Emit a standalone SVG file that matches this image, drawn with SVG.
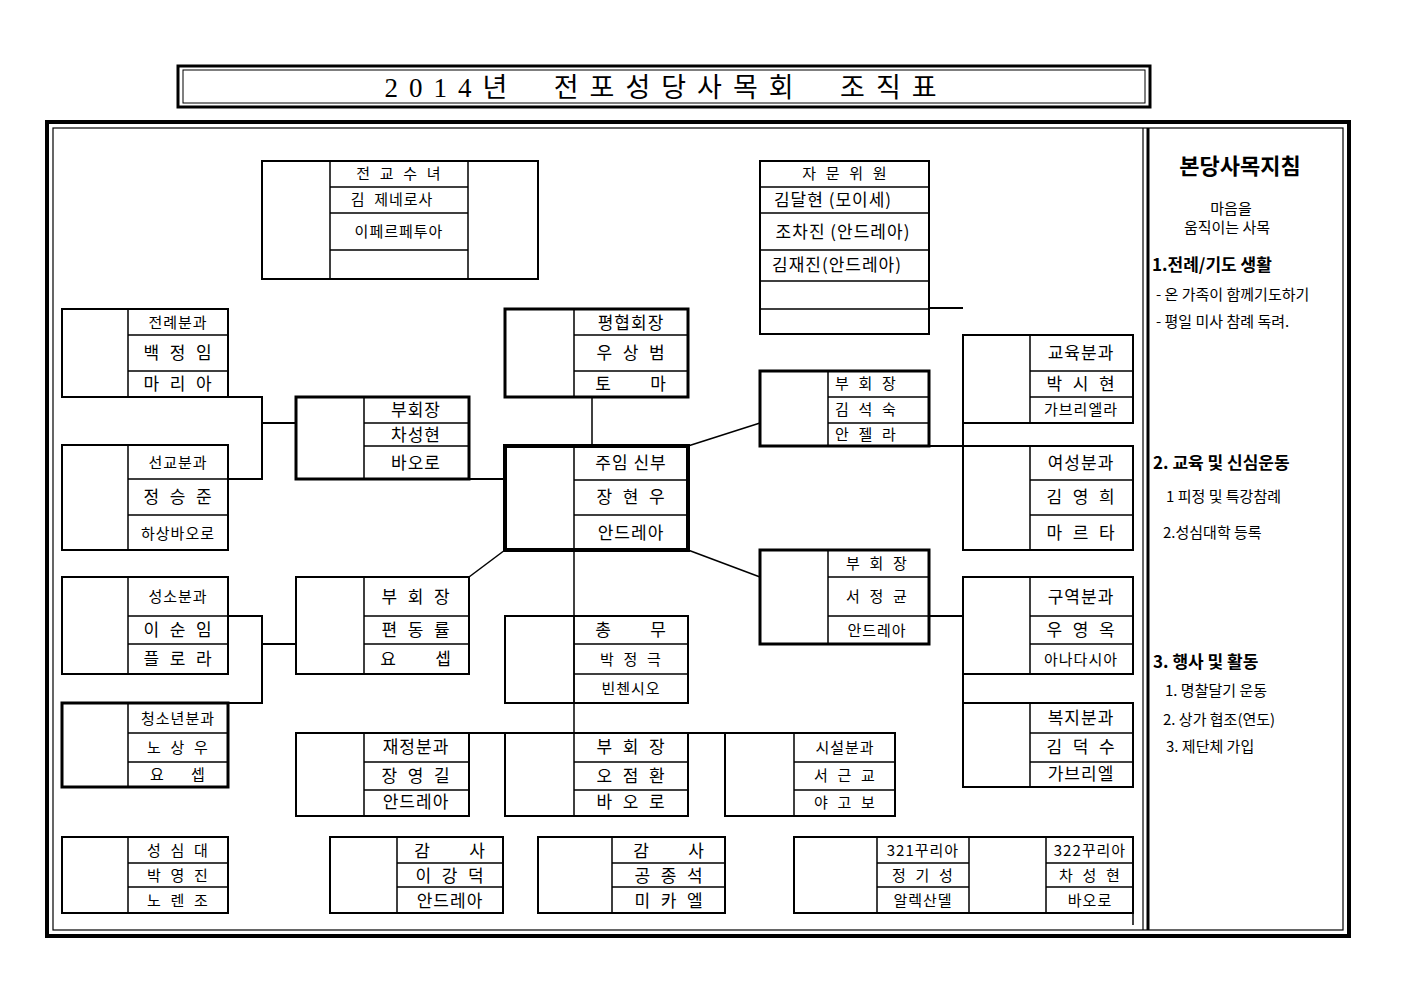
<svg xmlns="http://www.w3.org/2000/svg" width="1403" height="992" viewBox="0 0 1403 992">
<style>
text{white-space:pre}
.b{fill:none;stroke:#000;stroke-width:2}
.k{fill:none;stroke:#000;stroke-width:3}
.kk{fill:none;stroke:#000;stroke-width:4}
.l{stroke:#000;stroke-width:1.5;fill:none}
.c{stroke:#000;stroke-width:2;fill:none}
.t{font-family:"Noto Sans CJK KR","Liberation Sans",sans-serif;font-size:17px;text-anchor:middle;fill:#000;letter-spacing:1px}
.s{font-size:15px}
.p{font-family:"Noto Sans CJK KR","Liberation Sans",sans-serif;font-size:15px;fill:#000}
.h{font-weight:bold;font-size:17px}
</style>
<rect width="1403" height="992" fill="#fff"/>
<g id="title">
<rect x="178" y="66" width="972" height="41" class="k"/>
<rect x="183" y="70" width="962" height="33" fill="none" stroke="#000" stroke-width="1"/>
<text x="666" y="97" font-family="'Liberation Serif','Noto Sans CJK KR',serif" font-size="27" text-anchor="middle" letter-spacing="11">2014년  전포성당사목회  조직표</text>
</g>
<g id="frame">
<rect x="47" y="122" width="1302" height="814" fill="none" stroke="#000" stroke-width="4"/>
<rect x="53" y="128" width="1290" height="802" fill="none" stroke="#000" stroke-width="1.2"/>
<line x1="1143" y1="128" x2="1143" y2="930" stroke="#000" stroke-width="1.2"/>
<line x1="1148" y1="128" x2="1148" y2="930" stroke="#000" stroke-width="3"/>
</g>
<g id="connectors">
<polyline class="c" points="228,397 262,397 262,479 228,479"/>
<line class="c" x1="262" y1="423" x2="296" y2="423"/>
<line class="c" x1="469" y1="479" x2="505" y2="479"/>
<line class="l" x1="592" y1="397" x2="592" y2="446"/>
<line class="l" x1="574" y1="550" x2="574" y2="733"/>
<line class="l" x1="688" y1="446" x2="760" y2="423"/>
<line class="l" x1="688" y1="550" x2="760" y2="577"/>
<line class="l" x1="505" y1="550" x2="469" y2="577"/>
<line class="c" x1="929" y1="446" x2="963" y2="446"/>
<line class="c" x1="929" y1="308" x2="963" y2="308"/>
<line class="c" x1="963" y1="423" x2="963" y2="446"/>
<line class="c" x1="929" y1="616" x2="963" y2="616"/>
<line class="c" x1="963" y1="674" x2="963" y2="703"/>
<polyline class="c" points="228,616 262,616 262,703 228,703"/>
<line class="c" x1="262" y1="644" x2="296" y2="644"/>
<line class="c" x1="469" y1="733" x2="505" y2="733"/>
<line class="c" x1="688" y1="733" x2="725" y2="733"/>
<line class="l" x1="1133" y1="913" x2="1133" y2="925"/>
</g>
<g id="n-nun">
<rect x="262" y="161" width="276" height="118" class="b"/>
<path class="l" d="M330 161V279M468 161V279M330 187H468M330 213H468M330 250H468"/>
<text class="t s" x="399" y="179">전  교  수  녀</text>
<text class="t s" x="392" y="205">김  제네로사</text>
<text class="t s" x="399" y="237">이페르페투아</text>
</g>
<g id="n-advisor">
<rect x="760" y="161" width="169" height="173" class="b"/>
<path class="l" d="M760 187H929M760 213H929M760 250H929M760 281H929M760 309H929"/>
<text class="t s" x="845" y="179">자  문  위  원</text>
<text class="t" x="833" y="206">김달현 (모이세)</text>
<text class="t" x="843" y="238">조차진 (안드레아)</text>
<text class="t" x="837" y="271">김재진(안드레아)</text>
</g>
<g id="n-liturgy">
<rect x="62" y="309" width="166" height="88" class="b"/>
<path class="l" d="M128 309V397M128 335H228M128 371H228"/>
<text class="t s" x="178" y="328">전례분과</text>
<text class="t" x="178" y="359">백  정  임</text>
<text class="t" x="178" y="390">마  리  아</text>
</g>
<g id="n-mission">
<rect x="62" y="445" width="166" height="105" class="b"/>
<path class="l" d="M128 445V550M128 479H228M128 515H228"/>
<text class="t s" x="178" y="468">선교분과</text>
<text class="t" x="178" y="503">정  승  준</text>
<text class="t s" x="178" y="539">하상바오로</text>
</g>
<g id="n-vp1">
<rect x="296" y="397" width="173" height="82" class="k"/>
<path class="l" d="M364 397V479M364 423H469M364 446H469"/>
<text class="t" x="416" y="416">부회장</text>
<text class="t" x="416" y="441">차성현</text>
<text class="t" x="416" y="469">바오로</text>
</g>
<g id="n-council">
<rect x="505" y="309" width="183" height="88" class="k"/>
<path class="l" d="M574 309V397M574 335H688M574 371H688"/>
<text class="t" x="631" y="329">평협회장</text>
<text class="t" x="631" y="359">우  상  범</text>
<text class="t" x="631" y="390">토        마</text>
</g>
<g id="n-pastor">
<rect x="505" y="446" width="183" height="104" class="kk"/>
<path class="l" d="M574 446V550M574 480H688M574 515H688"/>
<text class="t" x="631" y="469">주임 신부</text>
<text class="t" x="631" y="503">장  현  우</text>
<text class="t" x="631" y="539">안드레아</text>
</g>
<g id="n-vp2">
<rect x="760" y="371" width="169" height="75" class="k"/>
<path class="l" d="M828 371V446M828 397H929M828 423H929"/>
<text class="t s" x="866" y="389">부  회  장</text>
<text class="t s" x="866" y="415">김  석  숙</text>
<text class="t s" x="866" y="440">안  젤  라</text>
</g>
<g id="n-edu">
<rect x="963" y="335" width="170" height="88" class="b"/>
<path class="l" d="M1030 335V423M1030 371H1133M1030 397H1133"/>
<text class="t" x="1081" y="359">교육분과</text>
<text class="t" x="1081" y="390">박  시  현</text>
<text class="t s" x="1081" y="415">가브리엘라</text>
</g>
<g id="n-women">
<rect x="963" y="446" width="170" height="104" class="b"/>
<path class="l" d="M1030 446V550M1030 480H1133M1030 515H1133"/>
<text class="t" x="1081" y="469">여성분과</text>
<text class="t" x="1081" y="503">김  영  희</text>
<text class="t" x="1081" y="539">마  르  타</text>
</g>
<g id="n-vp3">
<rect x="760" y="550" width="169" height="94" class="k"/>
<path class="l" d="M828 550V644M828 577H929M828 616H929"/>
<text class="t s" x="877" y="569">부  회  장</text>
<text class="t s" x="877" y="602">서  정  균</text>
<text class="t s" x="877" y="636">안드레아</text>
</g>
<g id="n-district">
<rect x="963" y="577" width="170" height="97" class="b"/>
<path class="l" d="M1030 577V674M1030 616H1133M1030 644H1133"/>
<text class="t" x="1081" y="603">구역분과</text>
<text class="t" x="1081" y="636">우  영  옥</text>
<text class="t s" x="1081" y="665">아나다시아</text>
</g>
<g id="n-welfare">
<rect x="963" y="703" width="170" height="84" class="b"/>
<path class="l" d="M1030 703V787M1030 733H1133M1030 762H1133"/>
<text class="t" x="1081" y="724">복지분과</text>
<text class="t" x="1081" y="753">김  덕  수</text>
<text class="t" x="1081" y="780">가브리엘</text>
</g>
<g id="n-vocation">
<rect x="62" y="577" width="166" height="97" class="b"/>
<path class="l" d="M128 577V674M128 616H228M128 644H228"/>
<text class="t s" x="178" y="602">성소분과</text>
<text class="t" x="178" y="636">이  순  임</text>
<text class="t" x="178" y="665">플  로  라</text>
</g>
<g id="n-vp4">
<rect x="296" y="577" width="173" height="97" class="b"/>
<path class="l" d="M364 577V674M364 616H469M364 644H469"/>
<text class="t" x="416" y="603">부  회  장</text>
<text class="t" x="416" y="636">편  동  률</text>
<text class="t" x="416" y="665">요        셉</text>
</g>
<g id="n-youth">
<rect x="62" y="703" width="166" height="84" class="k"/>
<path class="l" d="M128 703V787M128 733H228M128 762H228"/>
<text class="t s" x="178" y="724">청소년분과</text>
<text class="t s" x="178" y="753">노  상  우</text>
<text class="t s" x="178" y="780">요      셉</text>
</g>
<g id="n-general">
<rect x="505" y="616" width="183" height="87" class="b"/>
<path class="l" d="M574 616V703M574 644H688M574 674H688"/>
<text class="t" x="631" y="636">총        무</text>
<text class="t s" x="631" y="665">박  정  극</text>
<text class="t s" x="631" y="694">빈첸시오</text>
</g>
<g id="n-finance">
<rect x="296" y="733" width="173" height="83" class="b"/>
<path class="l" d="M364 733V816M364 762H469M364 790H469"/>
<text class="t" x="416" y="753">재정분과</text>
<text class="t" x="416" y="782">장  영  길</text>
<text class="t" x="416" y="808">안드레아</text>
</g>
<g id="n-vp5">
<rect x="505" y="733" width="183" height="83" class="b"/>
<path class="l" d="M574 733V816M574 762H688M574 790H688"/>
<text class="t" x="631" y="753">부  회  장</text>
<text class="t" x="631" y="782">오  점  환</text>
<text class="t" x="631" y="808">바  오  로</text>
</g>
<g id="n-facility">
<rect x="725" y="733" width="170" height="83" class="b"/>
<path class="l" d="M794 733V816M794 762H895M794 790H895"/>
<text class="t s" x="845" y="753">시설분과</text>
<text class="t s" x="845" y="781">서  근  교</text>
<text class="t s" x="845" y="808">야  고  보</text>
</g>
<g id="n-sacred">
<rect x="62" y="837" width="166" height="76" class="b"/>
<path class="l" d="M128 837V913M128 863H228M128 887H228"/>
<text class="t s" x="178" y="856">성  심  대</text>
<text class="t s" x="178" y="881">박  영  진</text>
<text class="t s" x="178" y="906">노  렌  조</text>
</g>
<g id="n-audit1">
<rect x="330" y="837" width="173" height="76" class="b"/>
<path class="l" d="M397 837V913M397 863H503M397 887H503"/>
<text class="t" x="450" y="857">감        사</text>
<text class="t" x="450" y="882">이  강  덕</text>
<text class="t" x="450" y="907">안드레아</text>
</g>
<g id="n-audit2">
<rect x="538" y="837" width="187" height="76" class="b"/>
<path class="l" d="M612 837V913M612 863H725M612 887H725"/>
<text class="t" x="669" y="857">감        사</text>
<text class="t" x="669" y="882">공  종  석</text>
<text class="t" x="669" y="907">미  카  엘</text>
</g>
<g id="n-curia">
<rect x="794" y="837" width="339" height="76" class="b"/>
<path class="l" d="M877 837V913M969 837V913M1046 837V913M877 863H969M877 887H969M1046 863H1133M1046 887H1133"/>
<text class="t s" x="923" y="856">321꾸리아</text>
<text class="t s" x="923" y="881">정  기  성</text>
<text class="t s" x="923" y="906">알렉산델</text>
<text class="t s" x="1090" y="856">322꾸리아</text>
<text class="t s" x="1090" y="881">차  성  현</text>
<text class="t s" x="1090" y="906">바오로</text>
</g>
<g id="guide">
<text class="p" x="1240" y="174" text-anchor="middle" font-weight="bold" style="font-size:22px">본당사목지침</text>
<text class="p" x="1231" y="214" text-anchor="middle">마음을</text>
<text class="p" x="1227" y="233" text-anchor="middle">움직이는 사목</text>
<text class="p h" x="1152" y="271">1.전례/기도 생활</text>
<text class="p" x="1156" y="300">- 온 가족이 함께기도하기</text>
<text class="p" x="1156" y="327">- 평일 미사 참례 독려.</text>
<text class="p h" x="1153" y="469">2. 교육 및 신심운동</text>
<text class="p" x="1166" y="502">1 피정 및 특강참례</text>
<text class="p" x="1163" y="538">2.성심대학 등록</text>
<text class="p h" x="1153" y="668">3. 행사 및 활동</text>
<text class="p" x="1165" y="696">1. 명찰달기 운동</text>
<text class="p" x="1163" y="725">2. 상가 협조(연도)</text>
<text class="p" x="1166" y="752">3. 제단체 가입</text>
</g>
</svg>
